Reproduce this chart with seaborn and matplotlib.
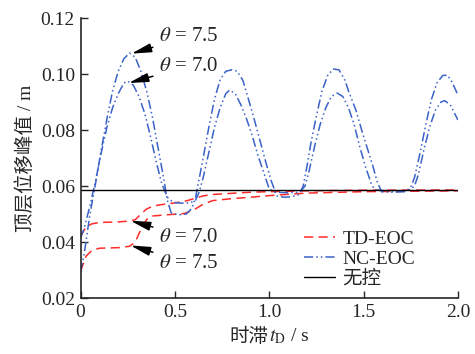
import numpy as np
import pandas as pd
import matplotlib
matplotlib.use("Agg")
import matplotlib.pyplot as plt
import seaborn as sns

# ---- data ----
nc75_t = [0, 0.02, 0.05, 0.08, 0.11, 0.14, 0.17, 0.20, 0.23, 0.26, 0.29, 0.32, 0.35, 0.38, 0.41, 0.44, 0.46, 0.48,
          0.52, 0.56, 0.59, 0.61, 0.63, 0.65, 0.68, 0.71, 0.74, 0.77, 0.80, 0.83, 0.86, 0.89, 0.92, 0.95, 0.98,
          1.01, 1.04, 1.08, 1.12, 1.16, 1.18, 1.20, 1.22, 1.25, 1.28, 1.31, 1.34, 1.37, 1.40, 1.42, 1.44, 1.46,
          1.49, 1.52, 1.55, 1.57, 1.595, 1.65, 1.72, 1.75, 1.77, 1.80, 1.83, 1.86, 1.89, 1.92, 1.945, 1.97, 2.0]
nc75_y = [0.0293, 0.036, 0.050, 0.061, 0.073, 0.084, 0.094, 0.101, 0.1055, 0.1075, 0.106, 0.101, 0.094, 0.085,
          0.074, 0.063, 0.055, 0.0505, 0.0497, 0.0500, 0.052, 0.056, 0.063, 0.070, 0.081, 0.091, 0.098, 0.1010,
          0.1015, 0.1010, 0.0978, 0.091, 0.084, 0.0765, 0.069, 0.062, 0.0565, 0.0560, 0.0562, 0.0570, 0.060,
          0.067, 0.075, 0.085, 0.094, 0.0995, 0.1018, 0.1015, 0.098, 0.094, 0.0905, 0.087, 0.080, 0.0735, 0.067,
          0.062, 0.058, 0.0578, 0.058, 0.0595, 0.063, 0.072, 0.082, 0.091, 0.097, 0.0995, 0.0996, 0.097, 0.0925]

nc70_t = [0, 0.02, 0.05, 0.08, 0.11, 0.14, 0.17, 0.20, 0.23, 0.25, 0.28, 0.31, 0.34, 0.37, 0.40, 0.43, 0.46, 0.49,
          0.53, 0.58, 0.61, 0.63, 0.65, 0.68, 0.71, 0.74, 0.77, 0.79, 0.82, 0.85, 0.88, 0.91, 0.94, 0.97, 1.00,
          1.03, 1.10, 1.16, 1.19, 1.21, 1.24, 1.27, 1.30, 1.33, 1.36, 1.39, 1.42, 1.45, 1.48, 1.51, 1.54, 1.56,
          1.65, 1.74, 1.77, 1.79, 1.82, 1.85, 1.88, 1.91, 1.93, 1.96, 2.0]
nc70_y = [0.0414, 0.045, 0.053, 0.062, 0.072, 0.081, 0.088, 0.093, 0.0968, 0.0975, 0.096, 0.092, 0.086, 0.078,
          0.069, 0.061, 0.056, 0.0542, 0.0539, 0.054, 0.055, 0.058, 0.063, 0.072, 0.081, 0.088, 0.093, 0.0943,
          0.093, 0.089, 0.084, 0.078, 0.071, 0.065, 0.0590, 0.0578, 0.0576, 0.0578, 0.060, 0.065, 0.074, 0.082,
          0.088, 0.092, 0.0932, 0.092, 0.088, 0.082, 0.074, 0.067, 0.061, 0.0586, 0.0582, 0.0584, 0.060, 0.064,
          0.073, 0.081, 0.087, 0.0900, 0.0905, 0.089, 0.0836]

td70_t = [0, 0.03, 0.06, 0.10, 0.20, 0.26, 0.29, 0.32, 0.35, 0.38, 0.42, 0.48, 0.55, 0.60, 0.65, 0.70, 0.80, 0.90,
          1.0, 1.2, 1.5, 2.0]
td70_y = [0.0420, 0.0455, 0.0465, 0.0470, 0.0472, 0.0475, 0.048, 0.0500, 0.0518, 0.0527, 0.0533, 0.0538, 0.0545,
          0.0555, 0.0565, 0.0570, 0.0574, 0.0578, 0.0580, 0.0583, 0.0585, 0.0586]

td75_t = [0, 0.03, 0.06, 0.10, 0.20, 0.26, 0.29, 0.32, 0.35, 0.38, 0.45, 0.55, 0.60, 0.65, 0.70, 0.80, 0.90, 1.0,
          1.2, 1.5, 2.0]
td75_y = [0.0295, 0.035, 0.037, 0.0378, 0.0380, 0.0385, 0.040, 0.0445, 0.048, 0.0493, 0.0497, 0.0502, 0.0515,
          0.0535, 0.0548, 0.0555, 0.0560, 0.0566, 0.0575, 0.0580, 0.0583]

nocontrol_t = [0, 2.0]
nocontrol_y = [0.0586, 0.0586]

xticks = [0, 0.5, 1.0, 1.5, 2.0]
xticklabels = ["0", "0.5", "1.0", "1.5", "2.0"]
yticks = [0.02, 0.04, 0.06, 0.08, 0.10, 0.12]
yticklabels = ["0.02", "0.04", "0.06", "0.08", "0.10", "0.12"]

# ---- style ----
sns.set_style("ticks")
plt.rcParams["font.family"] = ["Liberation Serif", "Noto Sans CJK SC", "DejaVu Sans"]
plt.rcParams["mathtext.fontset"] = "stix"

fig = plt.figure(figsize=(4.75, 3.54), dpi=100)
ax = fig.add_axes([0.1695, 0.158, 0.7945, 0.791])

red = "#ff2a2a"
blue = "#3a62c8"
lw = 1.1

df_td70 = pd.DataFrame({"t": td70_t, "y": td70_y})
df_td75 = pd.DataFrame({"t": td75_t, "y": td75_y})
df_nc70 = pd.DataFrame({"t": nc70_t, "y": nc70_y})
df_nc75 = pd.DataFrame({"t": nc75_t, "y": nc75_y})
df_no = pd.DataFrame({"t": nocontrol_t, "y": nocontrol_y})

td_dash = (6, 3.5)
nc_dash = (6, 2, 1, 2, 1, 2)

sns.lineplot(data=df_td70, x="t", y="y", ax=ax, color=red, lw=lw, label="TD-EOC")
sns.lineplot(data=df_td75, x="t", y="y", ax=ax, color=red, lw=lw, label="_nolegend_")
sns.lineplot(data=df_nc70, x="t", y="y", ax=ax, color=blue, lw=lw, label="NC-EOC")
sns.lineplot(data=df_nc75, x="t", y="y", ax=ax, color=blue, lw=lw, label="_nolegend_")
sns.lineplot(data=df_no, x="t", y="y", ax=ax, color="black", lw=1.0, label="无控")

lines = ax.get_lines()
lines[0].set_dashes(td_dash)
lines[1].set_dashes(td_dash)
lines[2].set_dashes(nc_dash)
lines[3].set_dashes(nc_dash)

ax.set_xlim(0, 2.0)
ax.set_ylim(0.02, 0.12)
ax.set_xticks(xticks)
ax.set_xticklabels(xticklabels)
ax.set_yticks(yticks)
ax.set_yticklabels(yticklabels)
ax.tick_params(direction="in", length=5, width=1.0, labelsize=14, pad=4)
sns.despine(ax=ax)
for s in ["left", "bottom"]:
    ax.spines[s].set_linewidth(1.2)

ax.set_xlabel("")
ax.set_ylabel("顶层位移峰值 / m", fontsize=14, labelpad=4)

# x label built from two pieces: CJK plain text + math text
fig.canvas.draw()
renderer = fig.canvas.get_renderer()
xl_y = 0.035
t1 = fig.text(0, xl_y, "时滞", fontsize=14, ha="left", va="baseline",
              family=["Noto Sans CJK SC", "DejaVu Sans"])
t2 = fig.text(0, xl_y, "$t_\\mathrm{D}$ / s", fontsize=14, ha="left", va="baseline")
w1 = t1.get_window_extent(renderer).width / fig.bbox.width
w2 = t2.get_window_extent(renderer).width / fig.bbox.width
pos = ax.get_position()
xc = (pos.x0 + pos.x1) / 2
x0 = xc - (w1 + w2) / 2
t1.set_x(x0)
t2.set_x(x0 + w1)

# annotations
ann_kw = dict(fontsize=15, ha="left", va="center",
              arrowprops=dict(arrowstyle="-|>,head_length=0.8,head_width=0.18", color="black", lw=1.1,
                              shrinkA=2, shrinkB=0))
ax.annotate("$\\theta$ = 7.5", xy=(0.27, 0.1073), xytext=(0.415, 0.1133), **ann_kw)
ax.annotate("$\\theta$ = 7.0", xy=(0.255, 0.0968), xytext=(0.415, 0.1028), **ann_kw)
ax.annotate("$\\theta$ = 7.0", xy=(0.265, 0.0476), xytext=(0.415, 0.0418), **ann_kw)
ax.annotate("$\\theta$ = 7.5", xy=(0.265, 0.0388), xytext=(0.415, 0.0325), **ann_kw)

ax.legend(loc="upper left", bbox_to_anchor=(0.555, 0.29), frameon=False, fontsize=14,
          handlelength=1.6, handletextpad=0.4, labelspacing=0.12, borderpad=0.2)

fig.savefig("out.png", dpi=100)
